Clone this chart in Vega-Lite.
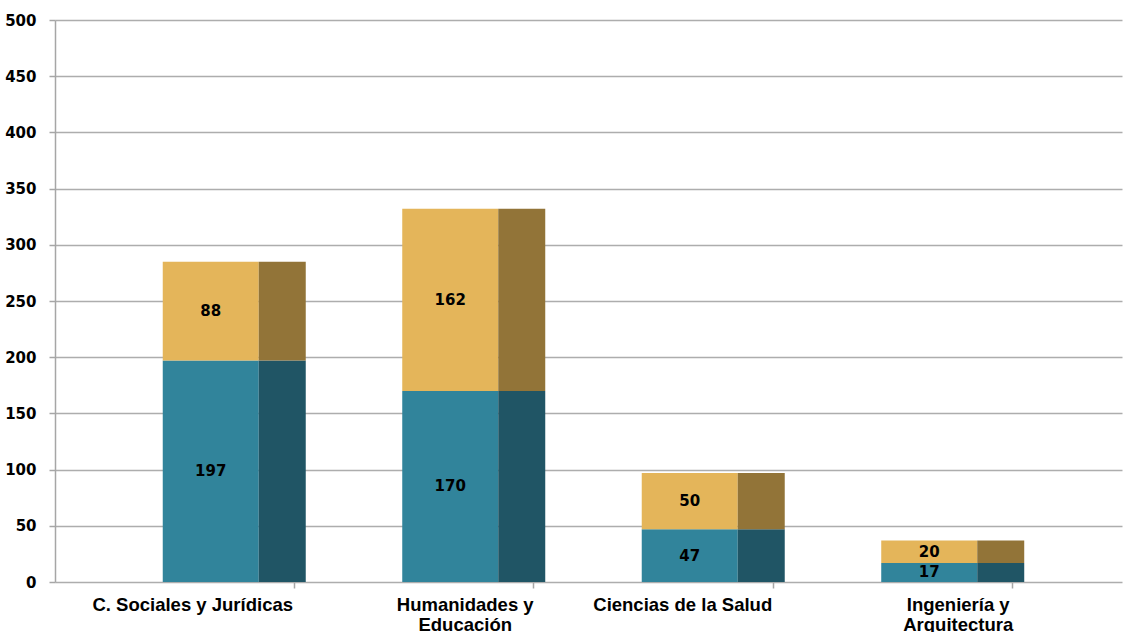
{
  "$schema": "https://vega.github.io/schema/vega-lite/v6.json",
  "autosize": "none",
  "width": 1067,
  "height": 562,
  "padding": {"left": 55, "top": 20, "right": 1, "bottom": 50},
  "background": "white",
  "config": {"view": {"stroke": null}},
  "data": {"values": [
    {"area": "C. Sociales y Jurídicas", "serie": "Serie 1", "valor": 197},
    {"area": "C. Sociales y Jurídicas", "serie": "Serie 2", "valor": 88},
    {"area": "Humanidades y Educación", "serie": "Serie 1", "valor": 170},
    {"area": "Humanidades y Educación", "serie": "Serie 2", "valor": 162},
    {"area": "Ciencias de la Salud", "serie": "Serie 1", "valor": 47},
    {"area": "Ciencias de la Salud", "serie": "Serie 2", "valor": 50},
    {"area": "Ingeniería y Arquitectura", "serie": "Serie 1", "valor": 17},
    {"area": "Ingeniería y Arquitectura", "serie": "Serie 2", "valor": 20}
  ]},
  "encoding": {
    "x": {
      "field": "area", "type": "nominal", "sort": null,
      "scale": {"paddingInner": 0, "paddingOuter": 0.2276, "align": 0},
      "axis": {
        "title": null, "bandPosition": 1, "domain": false, "labelAngle": 0,
        "tickColor": "#a6a6a6", "tickSize": 6, "tickWidth": 1.5,
        "labelFont": "Liberation Sans", "labelFontSize": 18.5, "labelFontWeight": "bold",
        "labelColor": "#000000", "labelPadding": 7, "labelLineHeight": 20, "labelBaseline": "top",
        "labelLimit": 0, "labelOverlap": false,
        "labelExpr": "datum.label == 'Humanidades y Educación' ? ['Humanidades y', 'Educación'] : datum.label == 'Ingeniería y Arquitectura' ? ['Ingeniería y', 'Arquitectura'] : datum.label",
        "labelOffset": {
          "condition": [
            {"test": "datum.value == 'C. Sociales y Jurídicas'", "value": 18},
            {"test": "datum.value == 'Humanidades y Educación'", "value": 51},
            {"test": "datum.value == 'Ciencias de la Salud'", "value": 29}
          ],
          "value": 65
        }
      }
    },
    "y": {
      "field": "valor", "type": "quantitative", "stack": "zero",
      "scale": {"domain": [0, 500], "nice": false},
      "axis": {
        "title": null, "values": [0, 50, 100, 150, 200, 250, 300, 350, 400, 450, 500],
        "grid": true, "gridColor": "#adadad", "gridWidth": 1.5,
        "domainColor": "#a6a6a6", "domainWidth": 1.5,
        "tickColor": "#a6a6a6", "tickSize": 6, "tickWidth": 1.5,
        "labelFont": "DejaVu Sans", "labelFontSize": 15, "labelFontWeight": "bold",
        "labelColor": "#000000", "labelPadding": 13
      }
    },
    "order": {"field": "serie", "sort": "ascending"}
  },
  "layer": [
    {
      "mark": {"type": "bar", "width": 96, "xOffset": 36},
      "encoding": {
        "color": {"field": "serie", "type": "nominal",
          "scale": {"domain": ["Serie 1", "Serie 2"], "range": ["#31849b", "#e4b55a"]},
          "legend": null}
      }
    },
    {
      "mark": {"type": "bar", "width": 47, "xOffset": 107.5},
      "encoding": {
        "color": {"field": "serie", "type": "nominal",
          "scale": {"domain": ["Serie 1", "Serie 2"], "range": ["#205565", "#927438"]},
          "legend": null}
      }
    },
    {
      "mark": {"type": "text", "xOffset": 36, "font": "DejaVu Sans", "fontSize": 15, "fontWeight": "bold", "color": "#000000", "baseline": "middle"},
      "encoding": {
        "y": {"field": "valor", "type": "quantitative", "stack": "zero", "bandPosition": 0.5},
        "text": {"field": "valor", "type": "quantitative"}
      }
    }
  ],
  "resolve": {"scale": {"color": "independent"}}
}
